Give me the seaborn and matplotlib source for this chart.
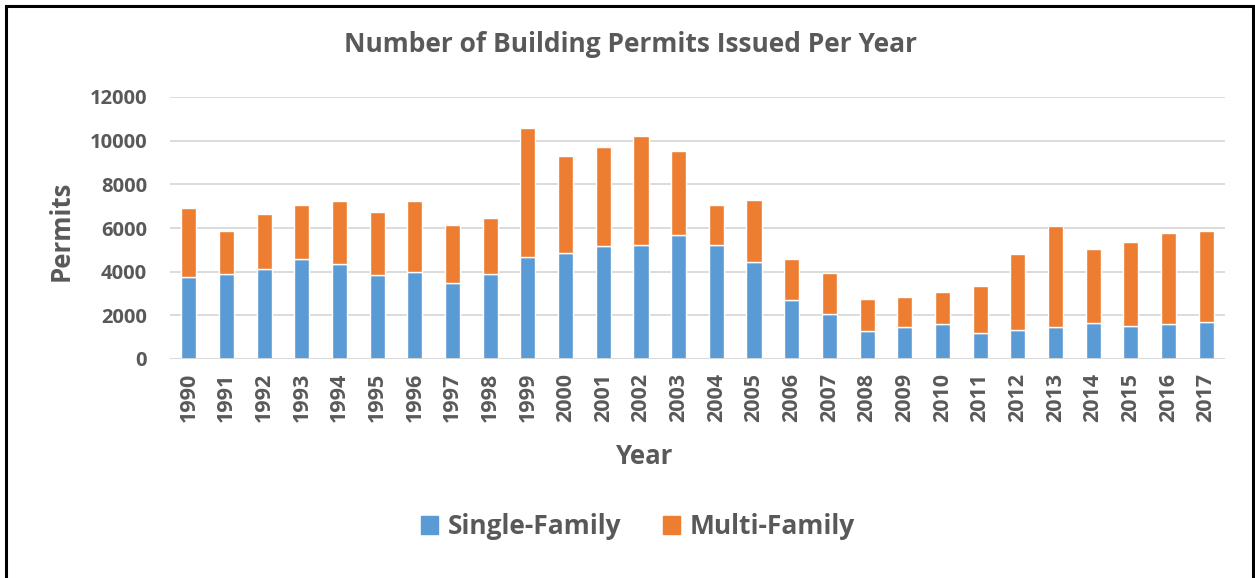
import matplotlib
matplotlib.use("Agg")
import matplotlib.pyplot as plt
from matplotlib.patches import Rectangle, Patch
import seaborn as sns
import pandas as pd

# values
years = list(range(1990, 2018))
single_family = [3750, 3900, 4110, 4590, 4330, 3870, 3980, 3490, 3900, 4660,
                 4860, 5170, 5200, 5700, 5200, 4430, 2690, 2060, 1280, 1450,
                 1610, 1180, 1350, 1480, 1650, 1500, 1590, 1700]
total = [6900, 5860, 6650, 7050, 7230, 6730, 7230, 6150, 6480, 10580,
         9300, 9720, 10210, 9540, 7060, 7260, 4600, 3940, 2770, 2860,
         3090, 3350, 4830, 6070, 5020, 5350, 5750, 5840]
multi_family = [t - s for t, s in zip(total, single_family)]

blue = "#5B9BD5"
orange = "#ED7D31"
grey_text = "#595959"

df = pd.DataFrame({"Year": [str(y) for y in years],
                   "Single-Family": single_family,
                   "Multi-Family": multi_family})

sns.set_style("white")
plt.rcParams["font.family"] = ["Open Sans", "DejaVu Sans"]
plt.rcParams["font.weight"] = "bold"

fig = plt.figure(figsize=(12.55, 5.78), dpi=100)
ax = fig.add_axes([170 / 1255, 1 - 359 / 578, 1055 / 1255, 262 / 578])

sns.barplot(data=df, x="Year", y="Single-Family", color=blue, width=0.4,
            saturation=1, ax=ax, zorder=3)
sns.barplot(data=df, x="Year", y="Multi-Family", color=orange, width=0.4,
            saturation=1, bottom=df["Single-Family"], ax=ax, zorder=3)

ax.set_ylim(0, 12000)
ax.set_xlim(-0.5, len(years) - 0.5)
ax.set_yticks(range(0, 12001, 2000))
ax.yaxis.grid(True, color="#D9D9D9", linewidth=1.3, zorder=0)
for s in ax.spines.values():
    s.set_visible(False)
ax.axhline(0, color="#D9D9D9", linewidth=1.3, zorder=4)
ax.tick_params(axis="x", rotation=90, labelsize=15.5, colors=grey_text,
               length=0, pad=10)
ax.tick_params(axis="y", labelsize=14.5, colors=grey_text, length=0, pad=16.5)
for lbl in ax.get_xticklabels() + ax.get_yticklabels():
    lbl.set_fontweight("bold")

ax.set_xlabel("Year", fontsize=18.5, color=grey_text, fontweight="bold")
ax.xaxis.set_label_coords(0.45, -0.32)
ax.set_ylabel("Permits", fontsize=18.5, color=grey_text, fontweight="bold")
ax.yaxis.set_label_coords(-0.09, 0.49)

fig.text(630 / 1255, 1 - 45 / 578, "Number of Building Permits Issued Per Year",
         ha="center", va="center", fontsize=19, color=grey_text, fontweight="bold")

handles = [Patch(color=blue, label="Single-Family"),
           Patch(color=orange, label="Multi-Family")]
fig.legend(handles=handles, loc="center", bbox_to_anchor=(638 / 1255, 1 - 527 / 578),
           ncol=2, frameon=False, labelcolor=grey_text,
           handlelength=0.65, handleheight=0.65, handletextpad=0.35,
           columnspacing=1.6, prop={"weight": "bold", "size": 19})

# outer chart frame
fig.patches.append(Rectangle((6 / 1255, -0.05), 1247 / 1255, 1.05 - 6 / 578,
                             transform=fig.transFigure, fill=False,
                             edgecolor="black", linewidth=2.2))

fig.savefig("out.png", dpi=100)
